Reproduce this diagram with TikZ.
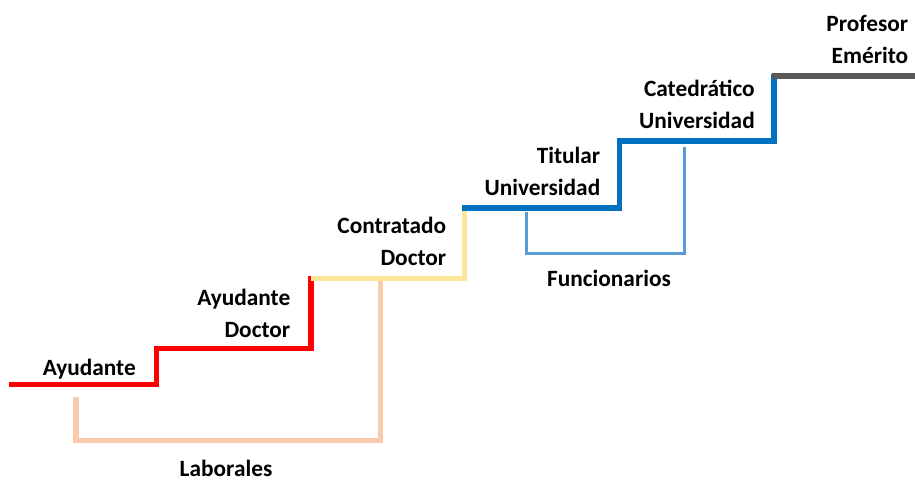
\documentclass[tikz,border=0pt]{standalone}
\usepackage{fontspec}
\setmainfont{Carlito}
\usepackage{tikz}
\usetikzlibrary{positioning}

\definecolor{stepred}{RGB}{255,0,0}
\definecolor{stepyellow}{RGB}{255,230,153}
\definecolor{stepblue}{RGB}{0,112,192}
\definecolor{stepgray}{RGB}{89,89,89}
\definecolor{bracketpeach}{RGB}{248,203,173}
\definecolor{bracketblue}{RGB}{91,155,213}

\tikzset{
  stepline/.style={line width=4.1pt},
  bracketline/.style={line width=#1},
  bracketline/.default=4.1pt,
  rank/.style={anchor=base east, inner sep=0pt, align=right,
    font=\fontsize{17.5}{23.8}\selectfont\bfseries},
  group/.style={anchor=base, inner sep=0pt,
    font=\fontsize{17.5}{23.8}\selectfont\bfseries}
}

\begin{document}
\begin{tikzpicture}[x=0.75pt,y=0.75pt,yscale=-1,xscale=1]
\useasboundingbox (0,0) rectangle (915,480);

%Stairs: Ayudante, Ayudante Doctor
\draw [stepline, color=stepred]   (9,384.5) -- (156.5,384.5) -- (156.5,348.7) -- (311,348.7) -- (311,276.3) ;
%Stairs: Contratado Doctor
\draw [stepline, color=stepyellow]   (311,278.3) -- (464.5,278.3) -- (464.5,206) ;
%Stairs: Titular, Catedratico
\draw [stepline, color=stepblue]   (462,208) -- (619.7,208) -- (619.7,141.2) -- (773.8,141.2) -- (773.8,74) ;
%Stairs: Profesor Emerito
\draw [stepline, color=stepgray]   (771.8,76) -- (915,76) ;

%Bracket: Laborales
\draw [bracketline, color=bracketpeach]   (76.2,396.7) -- (76.2,440.3) -- (380.5,440.3) -- (380.5,280.5) ;
%Bracket: Funcionarios
\draw [bracketline=2.6pt, color=bracketblue]   (526.3,211.7) -- (526.3,253.7) -- (684.5,253.7) -- (684.5,146.7) ;

% Text Node
\node [rank] (ayud) at (136,375) {Ayudante};
% Text Node
\node [rank] (ayuddoc) at (290.5,337) {Ayudante\\Doctor};
% Text Node
\node [rank] (contdoc) at (446.5,265.7) {Contratado\\Doctor};
% Text Node
\node [rank] (titular) at (600.5,195) {Titular\\Universidad};
% Text Node
\node [rank] (catedra) at (755,128.3) {Catedrático\\Universidad};
% Text Node
\node [rank] (emerito) at (908.5,63.3) {Profesor\\Emérito};

% Text Node
\node [group] (laborales) at (226,476) {Laborales};
% Text Node
\node [group] (funcion) at (609,286.7) {Funcionarios};

\end{tikzpicture}
\end{document}
